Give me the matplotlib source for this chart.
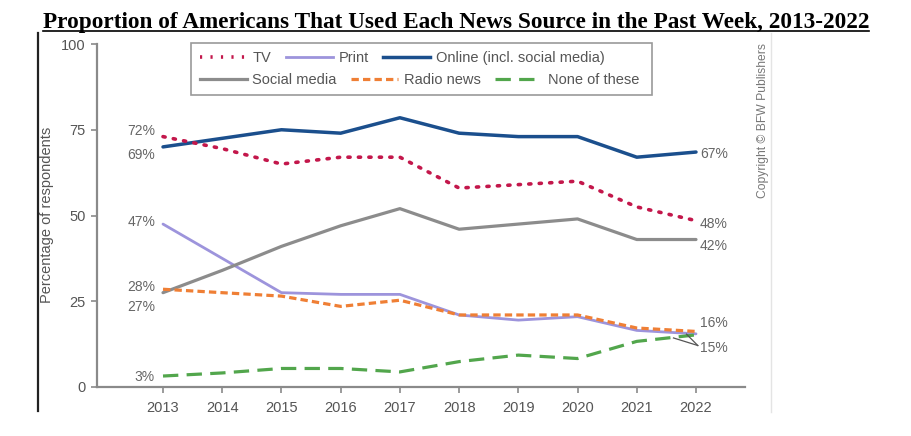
import matplotlib
matplotlib.use("Agg")
import matplotlib.pyplot as plt
from matplotlib.lines import Line2D
from matplotlib.patches import Rectangle
from matplotlib import font_manager as fm

# ---------------- data ----------------
years = [2013, 2014, 2015, 2016, 2017, 2018, 2019, 2020, 2021, 2022]
tv = [73, 69.5, 65, 67, 67, 58, 59, 60, 52.5, 48.5]
print_ = [47.5, 37.5, 27.5, 27, 27, 21, 19.5, 20.5, 16.5, 15.5]
online = [70, 72.5, 75, 74, 78.5, 74, 73, 73, 67, 68.5]
social = [27.5, 34, 41, 47, 52, 46, 47.5, 49, 43, 43]
radio = [28.5, 27.5, 26.5, 23.5, 25.3, 21, 21, 21, 17.2, 16.2]
none_ = [3.2, 4.1, 5.4, 5.4, 4.4, 7.4, 9.3, 8.3, 13.3, 15.2]

left_labels = ["72%", "69%", "47%", "28%", "27%", "3%"]
right_labels = ["67%", "48%", "42%", "16%", "15%"]
yticks = [0, 25, 50, 75, 100]
title = "Proportion of Americans That Used Each News Source in the Past Week, 2013-2022"
ylabel = "Percentage of respondents"
copyright_txt = "Copyright \u00a9 BFW Publishers"

# ---------------- fonts ----------------
names = {f.name for f in fm.fontManager.ttflist}
narrow = "Liberation Sans Narrow" if "Liberation Sans Narrow" in names else "Liberation Sans"
sans = [narrow, "DejaVu Sans"]
serif = ["Liberation Serif", "DejaVu Serif"]

W, H = 912, 436
fig = plt.figure(figsize=(W / 100, H / 100), dpi=100)
fig.patch.set_facecolor("white")

def fx(px):
    return px / W

def fy(py):
    return 1 - py / H

ax_l, ax_r, ax_t, ax_b = 97, 745, 44, 387
ax = fig.add_axes([fx(ax_l), fy(ax_b), fx(ax_r) - fx(ax_l), fy(ax_t) - fy(ax_b)])
ax.set_facecolor("none")

c_tv = "#c3174b"
c_print = "#9d94dc"
c_online = "#1b4f8d"
c_social = "#8c8c8c"
c_radio = "#ef7f35"
c_none = "#52a64c"

ls_tv = (0, (0.6, 2.3))
ls_radio = (0, (2.3, 1.3))
ls_none = (0, (4.8, 2.6))

ax.plot(years, print_, color=c_print, lw=2.0, solid_capstyle="round", zorder=2)
ax.plot(years, radio, color=c_radio, lw=2.3, linestyle=ls_radio, zorder=4)
ax.plot(years, none_, color=c_none, lw=2.3, linestyle=ls_none, zorder=3)
ax.plot(years, social, color=c_social, lw=2.3, solid_capstyle="round", zorder=3)
ax.plot(years, online, color=c_online, lw=2.5, solid_capstyle="round", zorder=3)
ax.plot(years, tv, color=c_tv, lw=2.6, linestyle=ls_tv,
        dash_capstyle="round", zorder=4)

x0 = 2013 - (163 - ax_l) / 59.22
x1 = 2022 + (ax_r - 696) / 59.22
ax.set_xlim(x0, x1)
ax.set_ylim(0, 100)

for s in ["top", "right"]:
    ax.spines[s].set_visible(False)
for s in ["left", "bottom"]:
    ax.spines[s].set_color("#8a8a8a")
    ax.spines[s].set_linewidth(1.6)

ax.set_xticks(years)
ax.set_xticklabels([str(y) for y in years])
ax.set_yticks(yticks)
ax.set_yticklabels([str(t) for t in yticks])
ax.tick_params(axis="both", colors="#8a8a8a", labelcolor="#555555",
               labelsize=10.5, length=4, width=1.2, direction="out")
ax.tick_params(axis="x", pad=6)
ax.tick_params(axis="y", pad=4)
for lab in ax.get_xticklabels() + ax.get_yticklabels():
    lab.set_family(sans)

# data labels
lab_kw = dict(color="#666666", fontsize=10, family=sans)
lx = 2013 - 8 / 59.22
ly = [74.6, 67.6, 48.1, 29.2, 23.3, 2.9]
for t, y in zip(left_labels, ly):
    ax.text(lx, y, t, ha="right", va="center", **lab_kw)
rx = 2022 + 4 / 59.22
ry = [67.9, 47.5, 41.1, 18.7, 11.4]
for t, y in zip(right_labels, ry):
    ax.text(rx, y, t, ha="left", va="center", **lab_kw)
# leader lines for 15%
ax.plot([2022.03, 2021.84], [12.1, 15.4], color="#555555", lw=0.9, zorder=5)
ax.plot([2022.03, 2021.62], [12.1, 14.3], color="#555555", lw=0.9, zorder=5)

# legend (two rows inside a single frame)
def h(color, ls, lw):
    return Line2D([0], [0], color=color, linestyle=ls, lw=lw)

row1 = [h(c_tv, ls_tv, 2.6), h(c_print, "-", 2.0), h(c_online, "-", 2.5)]
row2 = [h(c_social, "-", 2.3), h(c_radio, ls_radio, 2.3), h(c_none, ls_none, 2.3)]
leg_kw = dict(ncol=3, frameon=False, handlelength=3.2, handletextpad=0.4,
              columnspacing=1.0, borderpad=0.0, borderaxespad=0.0,
              prop={"family": sans, "size": 10.5}, labelcolor="#555555",
              loc="center left")
ly1 = (ax_b - 58) / (ax_b - ax_t)
ly2 = (ax_b - 80) / (ax_b - ax_t)
lxl = (200 - ax_l) / (ax_r - ax_l)
leg1 = ax.legend(row1, ["TV", "Print", "Online (incl. social media)"],
                 bbox_to_anchor=(lxl, ly1), **leg_kw)
ax.add_artist(leg1)
leg2 = ax.legend(row2, ["Social media", "Radio news", "None of these"],
                 bbox_to_anchor=(lxl, ly2), **leg_kw)
frame = Rectangle((fx(191), fy(95)), fx(652) - fx(191), fy(43) - fy(95),
                  transform=fig.transFigure, fill=False, edgecolor="#9a9a9a",
                  lw=1.2, zorder=1)
fig.add_artist(frame)

# y label and copyright
fig.text(fx(47), fy(215), ylabel, rotation=90, ha="center", va="center",
         color="#555555", fontsize=10.5, family=sans)
fig.text(fx(763), fy(120), copyright_txt, rotation=90, ha="center", va="center",
         color="#777777", fontsize=8.7, family=sans)

# image borders
fig.add_artist(Line2D([fx(38), fx(38)], [fy(33), fy(411)], color="#222222",
                      lw=1.6, transform=fig.transFigure))
fig.add_artist(Line2D([fx(771), fx(771)], [fy(33), fy(412)], color="#e4e4e4",
                      lw=1.0, transform=fig.transFigure))

# title with underline, scaled to span the reference width
t = fig.text(0.5, fy(28), title, ha="center", va="baseline", fontsize=16,
             fontweight="bold", family=serif, color="black")
fig.canvas.draw()
r = fig.canvas.get_renderer()
bb = t.get_window_extent(r)
t.set_fontsize(16 * (872 - 40) / bb.width)
fig.canvas.draw()
bb = t.get_window_extent(r)
fig.add_artist(Line2D([bb.x0 / W, bb.x1 / W], [fy(31), fy(31)], color="black",
                      lw=1.2, transform=fig.transFigure))

fig.savefig("out.png", dpi=100, facecolor="white")
